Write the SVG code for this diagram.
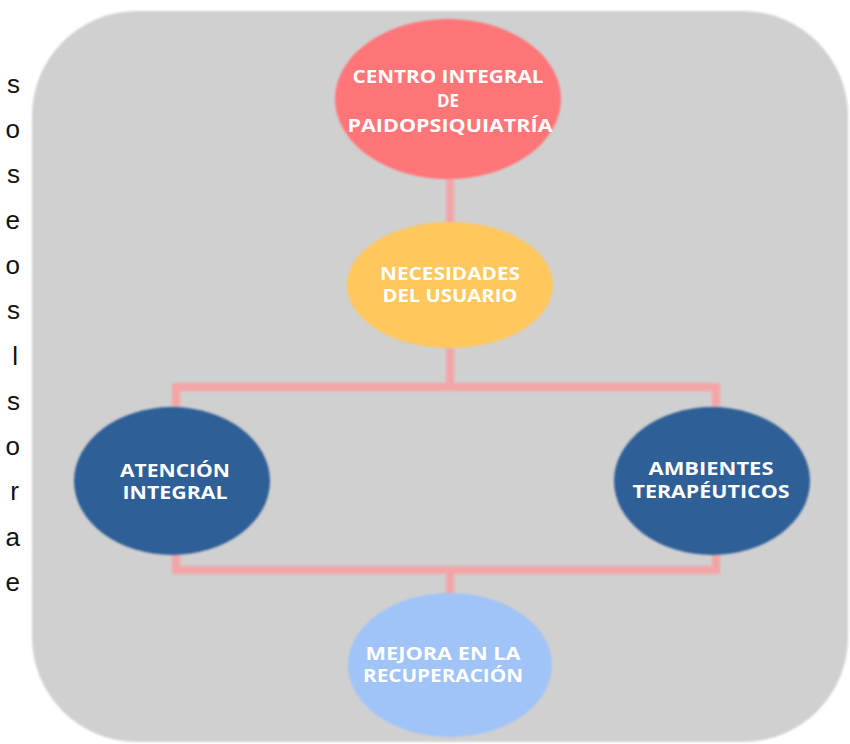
<svg xmlns="http://www.w3.org/2000/svg" width="850" height="744" viewBox="0 0 850 744">
<defs>
<filter id="soft" x="-10%" y="-10%" width="120%" height="120%"><feGaussianBlur stdDeviation="1.2"/></filter>
<filter id="glow" x="-10%" y="-10%" width="120%" height="120%"><feGaussianBlur stdDeviation="1.5"/></filter>
</defs>
<style>
.side{font-family:"Liberation Sans",Arial,sans-serif;font-size:26px;fill:#111;text-anchor:end}
.lbl{font-family:"Open Sans","Liberation Sans",sans-serif;font-weight:bold;font-size:17px;fill:#ffffff;text-anchor:middle}
.con{fill:none;stroke:#f4a4a6;stroke-width:8;stroke-linejoin:miter}
</style>
<rect width="850" height="744" fill="#ffffff"/>
<rect id="panel" x="32" y="11" width="816" height="731" rx="105" ry="105" fill="#d0d0d0" filter="url(#soft)"/>
<g id="side-text">
<text class="side" x="20" y="93">s</text>
<text class="side" x="20" y="138">o</text>
<text class="side" x="20" y="183">s</text>
<text class="side" x="20" y="229">e</text>
<text class="side" x="20" y="274">o</text>
<text class="side" x="20" y="319">s</text>
<text class="side" x="18" y="365">l</text>
<text class="side" x="20" y="410">s</text>
<text class="side" x="20" y="455">o</text>
<text class="side" x="19" y="500">r</text>
<text class="side" x="20" y="546">a</text>
<text class="side" x="20" y="591">e</text>
</g>
<g id="connectors" filter="url(#glow)">
<path class="con" d="M450 178 V224"/>
<path class="con" d="M450 348 V387 M176 408 V387 H716 V408"/>
<path class="con" d="M176 553 V570 H716 V553 M450 570 V595"/>
</g>
<g id="centro">
<ellipse cx="448" cy="99" rx="113" ry="80" fill="#ff7478" filter="url(#soft)"/>
<text class="lbl" x="448" y="83" textLength="191" lengthAdjust="spacingAndGlyphs">CENTRO INTEGRAL</text>
<text class="lbl" x="448" y="107">DE</text>
<text class="lbl" x="450" y="132" textLength="205" lengthAdjust="spacingAndGlyphs">PAIDOPSIQUIATRÍA</text>
</g>
<g id="necesidades">
<ellipse cx="450" cy="285" rx="103" ry="63" fill="#ffc75c" filter="url(#soft)"/>
<text class="lbl" x="450" y="280" textLength="140" lengthAdjust="spacingAndGlyphs">NECESIDADES</text>
<text class="lbl" x="450" y="302" textLength="135" lengthAdjust="spacingAndGlyphs">DEL USUARIO</text>
</g>
<g id="atencion">
<ellipse cx="172" cy="481" rx="98" ry="74" fill="#2d5e97" filter="url(#soft)"/>
<text class="lbl" x="175" y="477" textLength="110" lengthAdjust="spacingAndGlyphs">ATENCIÓN</text>
<text class="lbl" x="175" y="499" textLength="105" lengthAdjust="spacingAndGlyphs">INTEGRAL</text>
</g>
<g id="ambientes">
<ellipse cx="712" cy="481" rx="98" ry="74" fill="#2d5e97" filter="url(#soft)"/>
<text class="lbl" x="711" y="475" textLength="125" lengthAdjust="spacingAndGlyphs">AMBIENTES</text>
<text class="lbl" x="711" y="498" textLength="157" lengthAdjust="spacingAndGlyphs">TERAPÉUTICOS</text>
</g>
<g id="mejora">
<ellipse cx="450" cy="665" rx="102" ry="72" fill="#a0c4f7" filter="url(#soft)"/>
<text class="lbl" x="443" y="660" textLength="155" lengthAdjust="spacingAndGlyphs">MEJORA EN LA</text>
<text class="lbl" x="443" y="682" textLength="160" lengthAdjust="spacingAndGlyphs">RECUPERACIÓN</text>
</g>
</svg>
